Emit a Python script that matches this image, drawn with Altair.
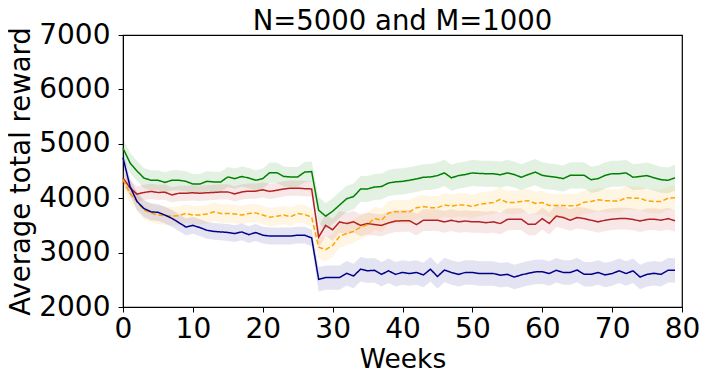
import altair as alt
import pandas as pd

weeks = list(range(80))

green_vals = [4920, 4650, 4500, 4370, 4330, 4330, 4290, 4330, 4330, 4310,
              4260, 4260, 4310, 4300, 4300, 4390, 4360, 4400, 4370, 4330,
              4360, 4470, 4470, 4400, 4390, 4390, 4480, 4490,
              3780, 3670, 3760, 3875, 3990, 4030, 4170, 4170, 4205, 4215,
              4280, 4300, 4310, 4330, 4355, 4385, 4390, 4415, 4465, 4375,
              4415, 4435, 4465, 4455, 4450,
              4450, 4430, 4465, 4435, 4385, 4435, 4480, 4420, 4400, 4385,
              4360, 4420, 4420, 4420, 4340, 4360, 4420, 4450, 4450, 4465,
              4385, 4400, 4415, 4375, 4340, 4330, 4375]

red_vals = [4370, 4190, 4075, 4105, 4125, 4105, 4110, 4060, 4090, 4090,
            4100, 4090, 4100, 4105, 4115, 4115, 4080, 4115, 4130, 4130,
            4155, 4125, 4145, 4170, 4185, 4185, 4175, 4170,
            3285, 3500, 3420, 3565, 3535, 3565, 3500, 3535, 3515, 3500,
            3545, 3580, 3585, 3585, 3515, 3595, 3595, 3595, 3565, 3595,
            3565, 3580, 3565, 3565, 3550,
            3565, 3535, 3610, 3615, 3615, 3520, 3520, 3625, 3535, 3670,
            3645, 3595, 3645, 3625, 3595, 3565, 3595, 3615, 3625, 3625,
            3610, 3580, 3610, 3615, 3595, 3625, 3585]

orange_vals = [4340, 4090, 3940, 3780, 3730, 3690, 3680, 3670, 3680, 3720,
               3690, 3690, 3710, 3750, 3720, 3720, 3710, 3690, 3720, 3730,
               3690, 3650, 3670, 3690, 3660, 3720, 3700, 3650,
               3100, 3055, 3130, 3300, 3350, 3390, 3470, 3515, 3630, 3595,
               3730, 3750, 3750, 3750, 3825, 3845, 3825, 3825, 3875, 3855,
               3875, 3875, 3845, 3890, 3905,
               3920, 3980, 3920, 3920, 3940, 3955, 3905, 3920, 3865, 3865,
               3865, 3860, 3865, 3925, 3940, 3970, 3955, 3950, 3950, 4010,
               4000, 4000, 3950, 3940, 3940, 4000, 4010]

blue_vals = [4745, 4220, 3940, 3810, 3750, 3740, 3690, 3630, 3550, 3470,
             3500, 3460, 3410, 3390, 3380, 3370, 3350, 3380, 3330, 3370,
             3320, 3305, 3305, 3305, 3305, 3320, 3320, 3270,
             2510, 2540, 2540, 2540, 2620, 2570, 2695, 2665, 2675, 2600,
             2665, 2600, 2635, 2615, 2635, 2590, 2695, 2560, 2680, 2635,
             2600, 2635, 2635, 2615, 2615,
             2615, 2585, 2600, 2550, 2590, 2620, 2645, 2650, 2615, 2675,
             2635, 2635, 2680, 2600, 2600, 2635, 2590, 2615, 2665, 2615,
             2665, 2550, 2600, 2620, 2600, 2675, 2675]

series_names = ["green", "firebrick", "orange", "darkblue"]
series_colors = ["#008000", "#b22222", "#ffa500", "#00008b"]
series_dash = [[1, 0], [1, 0], [5, 2.5], [1, 0]]
# half-width of the shaded band: before the shock (weeks 0-27), after it (28-79)
band_before = [185, 140, 170, 155]
band_after = [240, 200, 215, 225]
shock_week = 28

rows = []
for name, vals, hb, ha in zip(series_names,
                              [green_vals, red_vals, orange_vals, blue_vals],
                              band_before, band_after):
    for w, v in zip(weeks, vals):
        hw = hb if w < shock_week else ha
        rows.append({"week": w, "value": v, "lo": v - hw, "hi": v + hw, "series": name})
df = pd.DataFrame(rows)

x_ticks = [0, 10, 20, 30, 40, 50, 60, 70, 80]
y_ticks = [2000, 3000, 4000, 5000, 6000, 7000]

color = alt.Color("series:N", scale=alt.Scale(domain=series_names, range=series_colors), legend=None)
xenc = alt.X("week:Q", scale=alt.Scale(domain=[0, 80], nice=False),
             axis=alt.Axis(title="Weeks", values=x_ticks, format="d",
                           labelPadding=3, titlePadding=3, titleFontSize=26.5))

band = alt.Chart(df).mark_area(opacity=0.11).encode(
    x=xenc,
    y=alt.Y("lo:Q", scale=alt.Scale(domain=[2000, 7000], nice=False),
            axis=alt.Axis(title="Average total reward", values=y_ticks, format="d",
                          labelPadding=8, titlePadding=3, titleFontSize=27.5)),
    y2="hi:Q",
    color=color,
)

lines = alt.Chart(df).mark_line(strokeWidth=1.5).encode(
    x=xenc,
    y=alt.Y("value:Q"),
    color=color,
    strokeDash=alt.StrokeDash("series:N", scale=alt.Scale(domain=series_names, range=series_dash), legend=None),
)

chart = alt.layer(band, lines).properties(
    width=559, height=272,
    autosize=alt.AutoSizeParams(type="none"),
    padding={"left": 115, "top": 27, "right": 17, "bottom": 66},
    title=alt.TitleParams("N=5000 and M=1000", fontSize=27.5, font="DejaVu Sans",
                          fontWeight="normal", color="black", offset=-14),
).configure_view(stroke="black", strokeWidth=1.2).configure_axis(
    labelFont="DejaVu Sans", titleFont="DejaVu Sans",
    labelFontSize=28, labelColor="black", titleColor="black",
    titleFontWeight="normal", grid=False, domainColor="black", tickColor="black",
    tickSize=5, labelFlush=False, labelOverlap=False,
)

chart.save("out.html", embed_options={"renderer": "svg", "actions": False})
